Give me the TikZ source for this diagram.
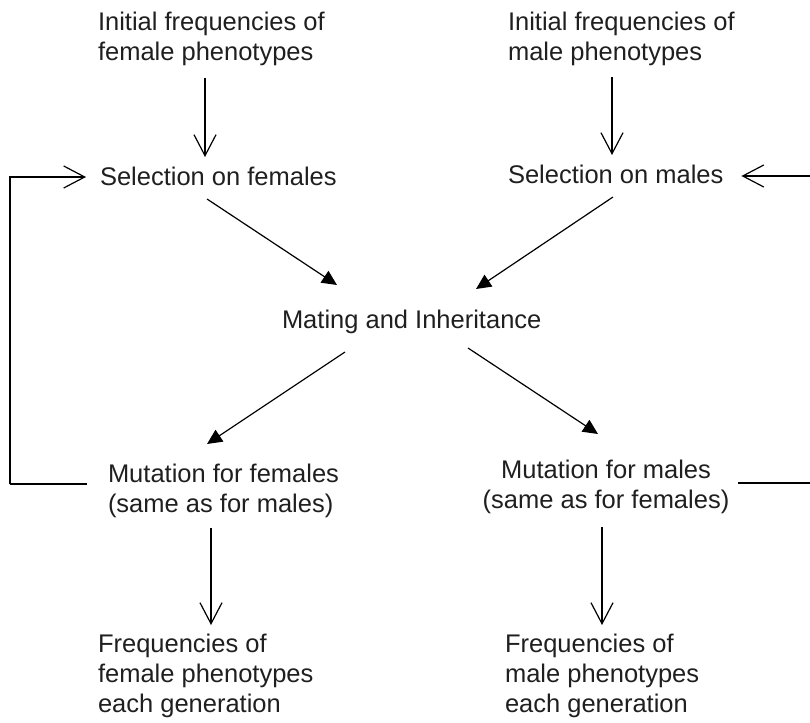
\documentclass[tikz,border=0pt]{standalone}
\usepackage{fontspec}
\setmainfont{Liberation Sans}
\usetikzlibrary{arrows.meta,calc}
\begin{document}
\begin{tikzpicture}[x=1pt,y=-1pt,
  lbl/.style={inner sep=0pt,outer sep=0pt,text=black!88,font=\fontsize{25.5}{30}\selectfont},
  openarrow/.style={line width=1.2pt,-{Straight Barb[length=21pt,width=22pt,line width=1.2pt]}},
  fillarrow/.style={line width=1.2pt,-{Triangle[length=15pt,width=14pt]}},
  plainline/.style={line width=1.2pt}]
\useasboundingbox (0,0) rectangle (810,722);
% multi-line nodes are placed by the baseline of their last line
\node[lbl,anchor=base west,align=left] (if) at (98,61) {Initial frequencies of\\female phenotypes};
\node[lbl,anchor=base west,align=left] (im) at (508,61) {Initial frequencies of\\male phenotypes};
\node[lbl,anchor=base west] (sf) at (100,185) {Selection on females};
\node[lbl,anchor=base west] (sm) at (508,183) {Selection on males};
\node[lbl,anchor=base west] (mi) at (282,328) {Mating and Inheritance};
\node[lbl,anchor=base west,align=left] (mf) at (108,512) {Mutation for females\\(same as for males)};
\node[lbl,anchor=base,align=center] (mm) at (606,508) {Mutation for males\\(same as for females)};
\node[lbl,anchor=base west,align=left] (ff) at (98,712) {Frequencies of\\female phenotypes\\each generation};
\node[lbl,anchor=base west,align=left] (fm) at (505,712) {Frequencies of\\male phenotypes\\each generation};
% vertical arrows
\draw[openarrow] ($(if.base west)+(107,17)$) -- ($(sf.base west)+(105,-28)$);
\draw[openarrow] ($(im.base west)+(104,16)$) -- ($(sm.base west)+(104,-28)$);
\draw[openarrow] ($(mf.base west)+(103,16)$) -- ($(ff.base west)+(113,-87)$);
\draw[openarrow] ($(mm.base)+(-4,19)$) -- ($(fm.base west)+(97,-87)$);
% diagonal arrows
\draw[fillarrow] ($(sf.base west)+(107,14)$) -- ($(mi.base west)+(55,-43)$);
\draw[fillarrow] ($(sm.base west)+(105,14)$) -- ($(mi.base west)+(194,-39)$);
\draw[fillarrow] ($(mi.base west)+(63,24)$) -- ($(mf.base west)+(99,-68)$);
\draw[fillarrow] ($(mi.base west)+(186,20)$) -- ($(mm.base)+(-8,-74)$);
% feedback loops
\draw[plainline] ($(mf.base west)+(-21,-28)$) -- ++(-77,0) coordinate (lc);
\draw[openarrow] (lc) |- ($(sf.base west)+(-14,-8)$);
\draw[plainline] ($(mm.base)+(132,-25)$) -- ++(72,0);
\draw[openarrow] ($(sm.base east)+(91,-7)$) -- ($(sm.base east)+(18,-7)$);
\end{tikzpicture}
\end{document}
